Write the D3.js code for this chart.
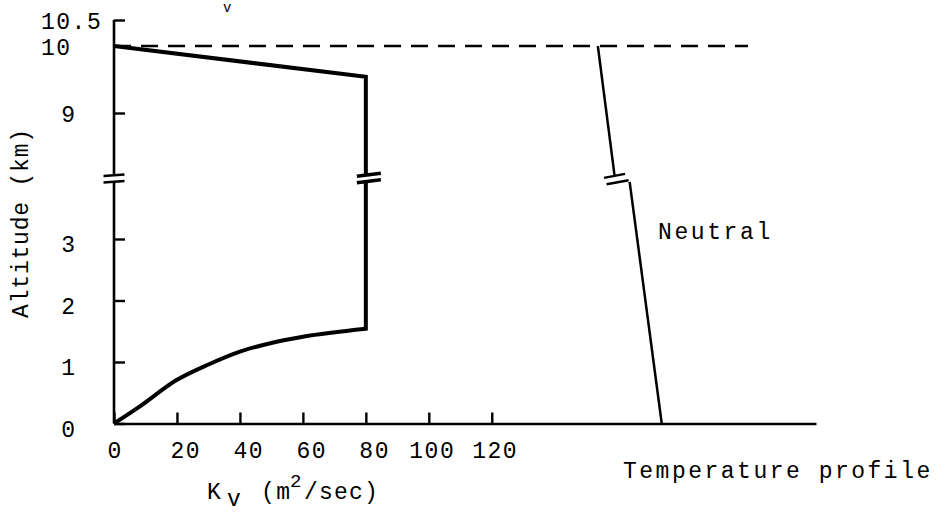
<!DOCTYPE html>
<html><head><meta charset="utf-8">
<script src="https://cdn.jsdelivr.net/npm/d3@7"></script>
<style>
body{margin:0;background:#fff}
svg text{font-family:"Liberation Mono","DejaVu Sans Mono",monospace;fill:#000}
</style>
</head><body>
<svg id="chart" width="936" height="514"></svg>
<script>
// ---------- data ----------
const xTickValues = [0, 20, 40, 60, 80, 100, 120];
const yTicksLower = [0, 1, 2, 3];
const yTicksUpper = [9, 10, 10.5];
// K_v profile (m^2/sec, km) : lower panel and upper panel
const kvLower = [[0,0],[8,0.27],[20,0.71],[30,0.96],[40,1.17],[50,1.31],[60,1.41],[80,1.54],[80,3.93]];
const kvUpper = [[80,8.07],[80,9.54],[0,10]];
// Neutral temperature profile (plot units, km)
const neutralUpper = [[153.7,10],[159,8.07]];
const neutralLower = [[163.8,3.93],[174,0]];
// dashed top-of-layer line
const layerTop = [[0,10],[201.4,10]];
const breakUpper = 8.07, breakLower = 3.93;
const xMax = 223;

// ---------- scales ----------
const svg = d3.select("#chart");
const x = d3.scaleLinear().domain([0, xMax]).range([114, 816]);
const yLo = d3.scaleLinear().domain([0, 3]).range([423.5, 239]);
const yHi = d3.scaleLinear().domain([9, 10, 10.5]).range([113, 46, 20]);

const lineLo = d3.line().x(d => x(d[0])).y(d => yLo(d[1]));
const lineHi = d3.line().x(d => x(d[0])).y(d => yHi(d[1]));
const curveLo = d3.line().x(d => x(d[0])).y(d => yLo(d[1])).curve(d3.curveMonotoneX);

// ---------- x axis ----------
const xAxis = d3.axisBottom(x).tickValues(xTickValues).tickFormat(d3.format("d"))
  .tickSizeInner(-11).tickSizeOuter(0).tickPadding(18);
const gx = svg.append("g").attr("transform", `translate(0,${yLo(0)})`).call(xAxis);
gx.select(".domain").attr("stroke", "#000").attr("stroke-width", 2.6);
gx.selectAll(".tick line").attr("stroke", "#000").attr("stroke-width", 2.4);
gx.selectAll(".tick text")
  .attr("font-size", 23).attr("letter-spacing", 1.5)
  .attr("text-anchor", "start")
  .attr("x", d => String(d).length >= 3 ? -20 : -7);

// ---------- y axis (two panels) ----------
const yAxisLo = d3.axisLeft(yLo).tickValues(yTicksLower).tickFormat(d3.format("d"))
  .tickSizeInner(-11).tickSizeOuter(0).tickPadding(39);
const gyLo = svg.append("g").attr("transform", `translate(${x(0)},0)`).call(yAxisLo);
gyLo.select(".domain").remove();
gyLo.selectAll(".tick line").attr("stroke", "#000").attr("stroke-width", 2.4);
gyLo.selectAll(".tick text").attr("font-size", 23).attr("dy", "0.55em");

const yAxisHi = d3.axisLeft(yHi).tickValues(yTicksUpper).tickFormat(d => String(d))
  .tickSizeInner(-11).tickSizeOuter(0).tickPadding(39);
const gyHi = svg.append("g").attr("transform", `translate(${x(0)},0)`).call(yAxisHi);
gyHi.select(".domain").remove();
gyHi.selectAll(".tick line").attr("stroke", "#000").attr("stroke-width", 2.4);
gyHi.selectAll(".tick text").attr("font-size", 23).attr("dy", "0.36em")
  .filter(d => d >= 10).attr("text-anchor", "start").attr("x", 41 - x(0)).attr("letter-spacing", 1.5);

// axis lines with break
svg.append("line").attr("x1", x(0)).attr("x2", x(0)).attr("y1", yHi(10.5)).attr("y2", yHi(breakUpper))
  .attr("stroke", "#000").attr("stroke-width", 2.6);
svg.append("line").attr("x1", x(0)).attr("x2", x(0)).attr("y1", yLo(breakLower)).attr("y2", yLo(0))
  .attr("stroke", "#000").attr("stroke-width", 2.6);

// ---------- break marks ----------
function breakMark(cx, cy, w, rise, sw, anchor) {
  const x1 = anchor === "right" ? cx - w : cx - w / 2;
  const x2 = x1 + w;
  svg.append("line").attr("x1", x1).attr("x2", x2).attr("y1", cy + rise / 2).attr("y2", cy - rise / 2)
    .attr("stroke", "#000").attr("stroke-width", sw).attr("stroke-linecap", "butt");
}
breakMark(x(0), yHi(breakUpper), 21, 1.5, 2.4);
breakMark(x(0), yLo(breakLower), 21, 1.5, 2.4);
breakMark(x(80) + 3, yHi(breakUpper) - 0.5, 24, 3, 3.6);
breakMark(x(80) + 3, yLo(breakLower) - 0.5, 24, 3, 3.6);
breakMark(x(neutralUpper[1][0]), yHi(neutralUpper[1][1]) + 0.5, 21, 4, 2.4);
breakMark(x(neutralLower[0][0]) - 1, yLo(neutralLower[0][1]) + 0.5, 22, 4, 2.4, "right");

// ---------- dashed layer top ----------
svg.append("path").attr("d", lineHi(layerTop)).attr("fill", "none").attr("stroke", "#000")
  .attr("stroke-width", 2.7).attr("stroke-dasharray", "17,10");

// ---------- K_v profile ----------
svg.append("path").attr("d", curveLo(kvLower.slice(0, 8)) + "L" + x(kvLower[8][0]) + "," + yLo(kvLower[8][1]))
  .attr("fill", "none").attr("stroke", "#000").attr("stroke-width", 4).attr("stroke-linejoin", "miter");
svg.append("path").attr("d", lineHi(kvUpper)).attr("fill", "none").attr("stroke", "#000")
  .attr("stroke-width", 4).attr("stroke-linejoin", "miter");

// ---------- neutral profile ----------
svg.append("path").attr("d", lineHi(neutralUpper)).attr("fill", "none").attr("stroke", "#000").attr("stroke-width", 2.5);
svg.append("path").attr("d", lineLo(neutralLower)).attr("fill", "none").attr("stroke", "#000").attr("stroke-width", 2.5);

// ---------- texts ----------
svg.append("text").attr("transform", "translate(28,223) rotate(-90)").attr("text-anchor", "middle")
  .attr("font-size", 23).attr("letter-spacing", 0.8).text("Altitude (km)");
svg.append("text").attr("x", 658).attr("y", 239).attr("font-size", 23).attr("letter-spacing", 2.6).text("Neutral");
svg.append("text").attr("x", 623).attr("y", 478).attr("font-size", 23).attr("letter-spacing", 2.5).text("Temperature profile");

const kv = svg.append("text").attr("y", 499).attr("font-size", 23);
kv.append("tspan").attr("x", 207).text("K");
kv.append("tspan").attr("x", 227).attr("dy", 7).text("v");
kv.append("tspan").attr("x", 261).attr("dy", -7).attr("letter-spacing", 1.5).text("(m");
kv.append("tspan").attr("x", 290).attr("dy", -12).attr("font-size", 19).text("2");
kv.append("tspan").attr("x", 304).attr("dy", 12).attr("letter-spacing", 1.2).text("/sec)");

// fragment of a subscript at the very top
svg.append("text").attr("x", 223).attr("y", 12).attr("font-size", 14).text("v");
</script>
</body></html>
